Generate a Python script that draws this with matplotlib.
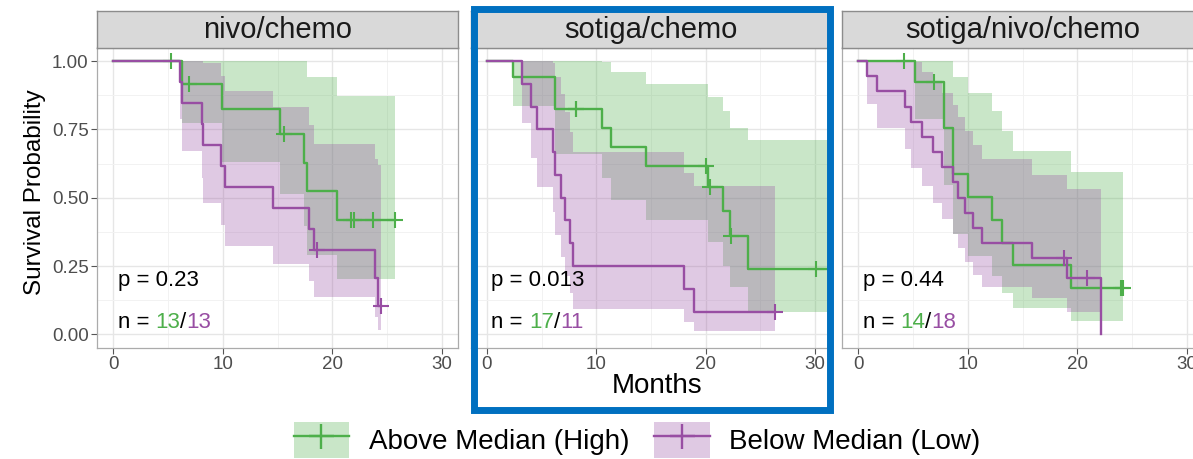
import numpy as np
import matplotlib
matplotlib.use("Agg")
import matplotlib.pyplot as plt
from matplotlib.patches import Rectangle, Patch
from matplotlib.lines import Line2D
from matplotlib.legend_handler import HandlerTuple
from matplotlib.offsetbox import TextArea, HPacker, AnnotationBbox

plt.rcParams['font.family'] = ['Liberation Sans', 'DejaVu Sans']

panels = ["nivo/chemo", "sotiga/chemo", "sotiga/nivo/chemo"]
p_values = ["0.23", "0.013", "0.44"]
n_high = [13, 17, 14]
n_low = [13, 11, 18]
groups = ["Above Median (High)", "Below Median (Low)"]

# --- nivo/chemo ---
nc_high_t = [0, 6.25, 9.9, 15.2, 17.4, 17.7, 20.4]
nc_high_s = [1, .917, .825, .733, .629, .524, .419]
nc_high_lo = [1, .773, .631, .515, .395, .291, .201]
nc_high_up = [1, 1, 1, 1, 1, .942, .872]
nc_high_cens = [5.3, 6.9, 15.6, 21.7, 22.0, 23.7, 25.7]
nc_high_end = 25.7

nc_low_t = [0, 6.1, 6.3, 8.1, 8.2, 9.8, 10.2, 14.6, 17.9, 18.3, 23.9, 24.2]
nc_low_s = [1, .923, .846, .769, .692, .615, .538, .462, .385, .308, .205, .103]
nc_low_lo = [1, .789, .671, .571, .482, .400, .325, .257, .194, .136, .065, .017]
nc_low_up = [1, 1, 1, 1, .994, .945, .890, .831, .766, .696, .643, .620]
nc_low_cens = [18.6, 24.5]
nc_low_end = 24.5

# --- sotiga/chemo ---
sc_high_t = [0, 2.4, 6.2, 10.5, 11.3, 14.5, 20.2, 21.6, 22.2, 23.9]
sc_high_s = [1, .941, .824, .755, .687, .618, .541, .451, .361, .240]
sc_high_lo = [1, .836, .661, .572, .491, .417, .337, .249, .173, .081]
sc_high_up = [1, 1, 1, .997, .960, .916, .868, .816, .755, .712]
sc_high_cens = [8.1, 8.12, 20.0, 20.4, 22.3, 30.1, 32.5]
sc_high_end = 32.5

sc_low_t = [0, 3.2, 4.0, 4.6, 6.0, 6.2, 6.8, 7.1, 7.6, 7.9, 18.0, 18.95]
sc_low_s = [1, .917, .833, .75, .667, .583, .5, .417, .333, .25, .167, .083]
sc_low_lo = [1, .773, .647, .541, .447, .362, .284, .213, .150, .094, .047, .013]
sc_low_up = [1, 1, 1, 1, .995, .941, .880, .814, .742, .666, .591, .543]
sc_low_cens = [26.3]
sc_low_end = 26.3

# --- sotiga/nivo/chemo ---
snc_high_t = [0, 5.2, 7.8, 8.65, 10.05, 12.2, 13.1, 14.1, 19.4]
snc_high_s = [1, .923, .755, .587, .503, .419, .335, .252, .168]
snc_high_lo = [1, .789, .548, .366, .287, .215, .151, .095, .048]
snc_high_up = [1, 1, 1, .943, .882, .816, .743, .670, .593]
snc_high_cens = [4.2, 6.9, 24.0, 24.2]
snc_high_end = 24.2

snc_low_t = [0, 0.82, 1.74, 4.26, 4.78, 5.78, 6.85, 7.6, 8.68, 9.13, 9.74, 10.5, 11.26, 15.9, 19.05, 22.2]
snc_low_s = [1, .944, .889, .833, .778, .722, .667, .611, .556, .5, .444, .389, .333, .278, .208, 0]
snc_low_lo = [1, .844, .755, .678, .608, .542, .481, .423, .368, .315, .265, .218, .174, .132, .082]
snc_low_up = [1, 1, 1, 1, .996, .962, .924, .883, .840, .794, .745, .694, .641, .585, .531]
snc_low_cens = [18.75, 20.9]
snc_low_end = 22.2

curves = [
    [(nc_high_t, nc_high_s, nc_high_lo, nc_high_up, nc_high_cens, nc_high_end),
     (nc_low_t, nc_low_s, nc_low_lo, nc_low_up, nc_low_cens, nc_low_end)],
    [(sc_high_t, sc_high_s, sc_high_lo, sc_high_up, sc_high_cens, sc_high_end),
     (sc_low_t, sc_low_s, sc_low_lo, sc_low_up, sc_low_cens, sc_low_end)],
    [(snc_high_t, snc_high_s, snc_high_lo, snc_high_up, snc_high_cens, snc_high_end),
     (snc_low_t, snc_low_s, snc_low_lo, snc_low_up, snc_low_cens, snc_low_end)],
]

GREEN = '#4DAF4A'
PURPLE = '#984EA3'
colors = [GREEN, PURPLE]

W, H = 1193, 459
fig = plt.figure(figsize=(W / 100, H / 100), dpi=100)


def px_box(x0, y0, x1, y1):
    # pixel box (origin top-left) -> figure rect
    return [x0 / W, 1 - y1 / H, (x1 - x0) / W, (y1 - y0) / H]


panel_left = [97, 470.5, 842]
panel_w = 361
top, bottom, strip_top = 47.5, 348, 11

for i, name in enumerate(panels):
    l = panel_left[i]
    ax = fig.add_axes(px_box(l, top, l + panel_w, bottom))
    ax.set_xlim(-1.5, 31.5)
    ax.set_ylim(-0.05, 1.05)
    ax.set_xticks([0, 10, 20, 30])
    ax.set_xticks([5, 15, 25], minor=True)
    ax.set_yticks([0, 0.25, 0.5, 0.75, 1.0])
    ax.set_yticks([0.125, 0.375, 0.625, 0.875], minor=True)
    ax.set_yticklabels(["0.00", "0.25", "0.50", "0.75", "1.00"])
    ax.grid(which='major', color='#E6E6E6', lw=1.0)
    ax.grid(which='minor', color='#F2F2F2', lw=0.7)
    ax.set_axisbelow(True)
    for sp in ax.spines.values():
        sp.set_color('#ABABAB')
        sp.set_linewidth(0.9)
    ax.tick_params(which='major', length=4, width=0.8, color='#555555',
                   labelsize=13.5, labelcolor='#4D4D4D', pad=2)
    ax.tick_params(which='minor', length=0)
    if i > 0:
        ax.tick_params(axis='y', left=False, labelleft=False)

    # bands first, then the curves on top
    for (t, s, lo, up, cens, end), c in zip(curves[i], colors):
        bx = np.append(t[:len(lo)], end)
        ax.fill_between(bx, np.append(lo, lo[-1]), np.append(up, up[-1]),
                        step='post', color=c, alpha=0.3, lw=0)
    for (t, s, lo, up, cens, end), c in zip(curves[i], colors):
        ax.step(np.append(t, end), np.append(s, s[-1]), where='post', color=c, lw=1.7)
        idx = np.searchsorted(t, cens, side='right') - 1
        ax.plot(cens, np.array(s)[idx], ls='none', marker='+', ms=11, mew=1.5, color=c)

    ax.text(0.4, 0.198, "p = " + p_values[i], fontsize=16, ha='left', va='center')
    parts = [TextArea("n = ", textprops=dict(fontsize=16, color='black')),
             TextArea(str(n_high[i]), textprops=dict(fontsize=16, color=GREEN)),
             TextArea("/", textprops=dict(fontsize=16, color='black')),
             TextArea(str(n_low[i]), textprops=dict(fontsize=16, color=PURPLE))]
    box = HPacker(children=parts, align='baseline', pad=0, sep=0)
    ax.add_artist(AnnotationBbox(box, (0.4, 0.044), xycoords='data',
                                 box_alignment=(0, 0.5), frameon=False, pad=0))

    strip = fig.add_axes(px_box(l, strip_top, l + panel_w, top))
    strip.set_facecolor('#D9D9D9')
    strip.set_xticks([])
    strip.set_yticks([])
    for sp in strip.spines.values():
        sp.set_color('#8C8C8C')
        sp.set_linewidth(1.0)
    strip.text(0.5, 0.47, name, fontsize=21, color='#1A1A1A', ha='center', va='center',
               transform=strip.transAxes)

fig.text(35 / W, 1 - 192 / H, "Survival Probability", rotation=90, fontsize=17.5,
         ha='center', va='center')
fig.text(657 / W, 1 - 386 / H, "Months", fontsize=20, ha='center', va='center')

# highlight box around the middle panel
fig.add_artist(Rectangle((473.5 / W, 1 - 410 / H), (829.7 - 473.5) / W, (410 - 9) / H,
                         transform=fig.transFigure, fill=False, ec='#0070C0', lw=5, zorder=20))

handles = [(Patch(fc=c, alpha=0.3, ec='none'),
            Line2D([], [], color=c, marker='+', ms=18, mew=1.7, lw=1.7)) for c in colors]
fig.legend(handles, groups, loc='center', bbox_to_anchor=(637 / W, 1 - 440 / H), ncol=2,
           frameon=False, fontsize=20, handlelength=2.0, handleheight=1.6,
           handletextpad=0.7, columnspacing=0.9,
           handler_map={tuple: HandlerTuple(ndivide=1)})

fig.savefig("out.png", dpi=100)
